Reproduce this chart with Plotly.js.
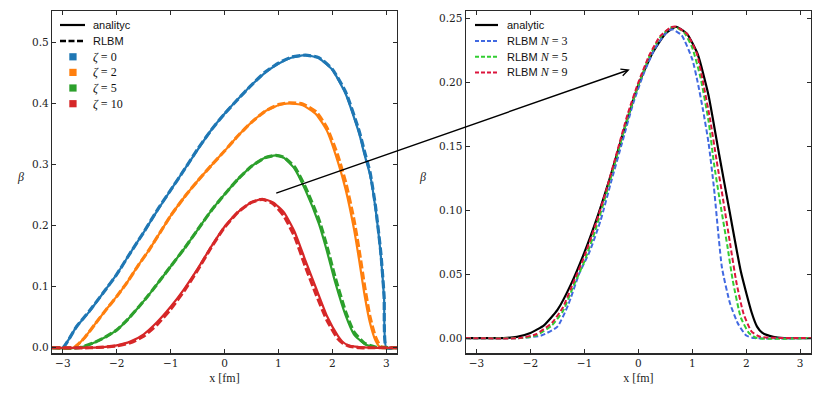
<!DOCTYPE html>
<html>
<head>
<meta charset="utf-8">
<script src="https://cdn.plot.ly/plotly-3.0.1.min.js"></script>
<style>
  body { margin: 0; background: #fff; }
  #chart { width: 822px; height: 398px; }
</style>
</head>
<body>
<div id="chart"></div>
<script>
// left panel: beta(x) for several zeta, analytic vs RLBM
const zetaColors = ["#1f77b4", "#ff7f0e", "#2ca02c", "#d62728"];
const zetaLabels = ["0", "2", "5", "10"];

const xZeta0 = [-3.2, -3.0, -2.75, -2.5, -2.25, -2.0, -1.75, -1.5, -1.25, -1.0, -0.75, -0.5, -0.25, 0.0, 0.25, 0.5, 0.75, 1.0, 1.25, 1.5, 1.75, 2.0, 2.25, 2.5, 2.6, 2.7, 2.8, 2.9, 2.96, 3.0, 3.2];
const yZeta0Analytic = [0, 0, 0.034, 0.06, 0.09, 0.12, 0.155, 0.189, 0.224, 0.258, 0.291, 0.324, 0.356, 0.383, 0.407, 0.43, 0.45, 0.465, 0.475, 0.479, 0.474, 0.455, 0.415, 0.35, 0.315, 0.283, 0.228, 0.15, 0.08, 0, 0];
const yZeta0Rlbm = [0, 0, 0.034, 0.061, 0.09, 0.12, 0.155, 0.189, 0.225, 0.258, 0.291, 0.325, 0.356, 0.383, 0.407, 0.43, 0.451, 0.466, 0.476, 0.479, 0.475, 0.456, 0.418, 0.354, 0.32, 0.287, 0.232, 0.155, 0.085, 0, 0];

const xZeta2 = [-3.2, -2.8, -2.6, -2.4, -2.2, -2.0, -1.8, -1.6, -1.4, -1.2, -1.0, -0.75, -0.5, -0.25, 0.0, 0.25, 0.5, 0.75, 1.0, 1.2, 1.45, 1.7, 1.9, 2.1, 2.25, 2.4, 2.5, 2.6, 2.7, 2.8, 2.9, 3.2];
const yZeta2Analytic = [0, 0, 0.016, 0.039, 0.062, 0.084, 0.108, 0.135, 0.16, 0.188, 0.216, 0.246, 0.273, 0.298, 0.322, 0.347, 0.369, 0.387, 0.397, 0.4, 0.397, 0.382, 0.355, 0.305, 0.258, 0.195, 0.142, 0.085, 0.04, 0.012, 0, 0];
const yZeta2Rlbm = [0, 0, 0.016, 0.039, 0.062, 0.084, 0.108, 0.135, 0.16, 0.188, 0.216, 0.246, 0.273, 0.298, 0.322, 0.347, 0.369, 0.387, 0.398, 0.401, 0.399, 0.386, 0.36, 0.315, 0.27, 0.21, 0.158, 0.1, 0.05, 0.018, 0.002, 0];

const xZeta5 = [-3.2, -2.7, -2.4, -2.2, -2.0, -1.8, -1.6, -1.4, -1.2, -1.0, -0.75, -0.5, -0.25, 0.0, 0.25, 0.5, 0.75, 0.95, 1.1, 1.3, 1.5, 1.75, 1.9, 2.05, 2.25, 2.4, 2.6, 2.8, 3.2];
const yZeta5Analytic = [0, 0, 0.009, 0.018, 0.029, 0.046, 0.066, 0.087, 0.11, 0.133, 0.162, 0.193, 0.224, 0.251, 0.276, 0.297, 0.311, 0.315, 0.311, 0.293, 0.258, 0.203, 0.158, 0.108, 0.052, 0.022, 0.006, 0, 0];
const yZeta5Rlbm = [0, 0, 0.009, 0.018, 0.029, 0.046, 0.066, 0.087, 0.11, 0.133, 0.162, 0.193, 0.224, 0.251, 0.276, 0.297, 0.311, 0.315, 0.312, 0.296, 0.263, 0.21, 0.166, 0.116, 0.058, 0.026, 0.007, 0.001, 0];

const xZeta10 = [-3.2, -2.5, -2.25, -2.0, -1.75, -1.5, -1.25, -1.0, -0.75, -0.5, -0.25, 0.0, 0.25, 0.5, 0.7, 0.9, 1.1, 1.3, 1.5, 1.7, 1.9, 2.1, 2.2, 2.3, 2.5, 2.7, 3.2];
const yZeta10Analytic = [0, 0, 0.001, 0.004, 0.01, 0.022, 0.042, 0.067, 0.096, 0.129, 0.165, 0.198, 0.222, 0.238, 0.2435, 0.238, 0.222, 0.19, 0.143, 0.097, 0.052, 0.02, 0.009, 0.004, 0.001, 0, 0];
const yZeta10Rlbm = [0, 0, 0.001, 0.003, 0.008, 0.019, 0.038, 0.063, 0.093, 0.127, 0.164, 0.197, 0.222, 0.238, 0.243, 0.236, 0.216, 0.182, 0.133, 0.087, 0.045, 0.015, 0.007, 0.003, 0, 0, 0];

// right panel: zeta = 10, RLBM with different N
const xN3 = [-3.2, -2.2, -1.8, -1.5, -1.3, -1.1, -0.9, -0.7, -0.5, -0.3, -0.1, 0.1, 0.3, 0.5, 0.62, 0.8, 1.0, 1.1, 1.2, 1.3, 1.4, 1.55, 1.7, 1.85, 2.0, 2.15, 3.2];
const yN3 = [0, 0, 0.002, 0.009, 0.026, 0.05, 0.068, 0.092, 0.123, 0.153, 0.183, 0.207, 0.226, 0.238, 0.2415, 0.237, 0.218, 0.2, 0.178, 0.153, 0.118, 0.055, 0.027, 0.011, 0.002, 0, 0];
const xN5 = [-3.2, -2.2, -1.9, -1.6, -1.4, -1.2, -1.0, -0.8, -0.6, -0.4, -0.2, 0.0, 0.2, 0.4, 0.6, 0.7, 0.85, 1.0, 1.15, 1.3, 1.4, 1.5, 1.65, 1.75, 1.9, 2.05, 2.2, 3.2];
const yN5 = [0, 0, 0.002, 0.01, 0.021, 0.041, 0.06, 0.084, 0.112, 0.142, 0.172, 0.198, 0.22, 0.235, 0.243, 0.243, 0.239, 0.227, 0.204, 0.17, 0.137, 0.11, 0.072, 0.045, 0.016, 0.004, 0, 0];
const xN9 = [-3.2, -2.2, -1.9, -1.6, -1.4, -1.2, -1.0, -0.8, -0.6, -0.4, -0.2, 0.0, 0.2, 0.4, 0.6, 0.7, 0.9, 1.08, 1.2, 1.33, 1.45, 1.58, 1.7, 1.82, 1.95, 2.1, 2.26, 3.2];
const yN9 = [0, 0, 0.003, 0.012, 0.024, 0.044, 0.064, 0.088, 0.115, 0.145, 0.175, 0.2, 0.221, 0.236, 0.243, 0.2435, 0.238, 0.223, 0.2, 0.171, 0.139, 0.106, 0.074, 0.043, 0.019, 0.005, 0.001, 0];

const nColors = ["#4169e1", "#32cd32", "#dc143c"];
const nLabels = ["3", "5", "9"];

const W = 822, H = 398;
const serif = "Liberation Serif";
const tickSerif = "DejaVu Serif";
const sans = "Liberation Sans";
const frame = "#2a2a2a";
const px = (v) => v / W;
const py = (v) => 1 - v / H;

const leftSets = [
  [xZeta0, yZeta0Analytic, yZeta0Rlbm],
  [xZeta2, yZeta2Analytic, yZeta2Rlbm],
  [xZeta5, yZeta5Analytic, yZeta5Rlbm],
  [xZeta10, yZeta10Analytic, yZeta10Rlbm],
];

const traces = [];
leftSets.forEach(([xs, ya, yr], i) => {
  traces.push({
    x: xs, y: ya, mode: "lines", xaxis: "x", yaxis: "y",
    line: { color: zetaColors[i], width: 2.2, shape: "spline", smoothing: 0.5 },
  });
  traces.push({
    x: xs, y: yr, mode: "lines", xaxis: "x", yaxis: "y",
    line: { color: zetaColors[i], width: 3.2, dash: "8px,3px", shape: "spline", smoothing: 0.5 },
  });
});

traces.push({
  x: xZeta10, y: yZeta10Analytic, mode: "lines", xaxis: "x2", yaxis: "y2",
  line: { color: "black", width: 2.2, shape: "spline", smoothing: 0.5 },
});
[[xN3, yN3], [xN5, yN5], [xN9, yN9]].forEach(([xs, ys], i) => {
  traces.push({
    x: xs, y: ys, mode: "lines", xaxis: "x2", yaxis: "y2",
    line: { color: nColors[i], width: 2, dash: "5px,2.5px", shape: "spline", smoothing: 0.5 },
  });
});

// legends are drawn by hand: plotly's minimum row height is taller than matplotlib's
const shapes = [];
const annotations = [];
function legendRow(y, textX, text, font) {
  annotations.push({
    xref: "paper", yref: "paper", x: px(textX), y: py(y), xanchor: "left", yanchor: "middle",
    text, showarrow: false, font,
  });
}
function legendLine(y, x0, x1, color, width, dash) {
  shapes.push({
    type: "line", xref: "paper", yref: "paper", x0: px(x0), x1: px(x1), y0: py(y), y1: py(y),
    line: { color, width, dash },
  });
}
const legendFont = { family: sans, size: 11, color: "#111" };
const mathFont = { family: serif, size: 12, color: "#111" };
const rowY = [25, 41, 56.8, 72.4, 88, 103.7];

legendLine(rowY[0], 60, 85, "black", 2.2, "solid");
legendRow(rowY[0], 91, "analityc", legendFont);
legendLine(rowY[1], 60, 85, "black", 2.4, "6px,2.5px");
legendRow(rowY[1], 91, "RLBM", legendFont);
zetaLabels.forEach((z, i) => {
  const y = rowY[i + 2];
  shapes.push({
    type: "rect", xref: "paper", yref: "paper", x0: px(69.3), x1: px(76.6), y0: py(y - 3.6), y1: py(y + 3.6),
    fillcolor: zetaColors[i], line: { width: 0 },
  });
  legendRow(y, 91, `<i>ζ</i> = ${z}`, mathFont);
});

legendLine(rowY[0], 475, 498, "black", 2.2, "solid");
legendRow(rowY[0], 505, "analytic", legendFont);
nLabels.forEach((n, i) => {
  const y = rowY[i + 1];
  legendLine(y, 475, 498, nColors[i], 2, "4px,2px");
  legendRow(y, 505, `RLBM <span style="font-family:Liberation Serif;font-size:12px"><i>N</i> = ${n}</span>`, legendFont);
});

// y labels (upright, as in the original)
[15, 422].forEach((x) => {
  annotations.push({
    xref: "paper", yref: "paper", x: px(x), y: py(177), text: "<i>β</i>", showarrow: false,
    font: { family: serif, size: 12, color: "#222" },
  });
});

// arrow from the zeta=10 peak on the left to the zoomed panel
annotations.push({
  xref: "x2", yref: "y2", x: -0.16, y: 0.21, axref: "pixel", ayref: "pixel", ax: -355, ay: 124,
  text: "", showarrow: true, arrowhead: 5, arrowsize: 1, arrowwidth: 1.4, arrowcolor: "black",
  standoff: 0, startstandoff: 0,
});

const axisCommon = {
  showgrid: false, zeroline: false, showline: true, mirror: "allticks",
  linecolor: frame, linewidth: 1.2, ticks: "inside", ticklen: 4, tickwidth: 1,
  tickcolor: frame, tickfont: { family: tickSerif, size: 10.5, color: "#222" },
};

const xAxisCommon = {
  ...axisCommon, range: [-3.2, 3.2], tickvals: [-3, -2, -1, 0, 1, 2, 3],
  title: { text: "x [fm]", font: { family: serif, size: 12, color: "#222" }, standoff: 5 },
};

const layout = {
  width: W, height: H,
  margin: { l: 0, r: 0, t: 0, b: 0 },
  paper_bgcolor: "white", plot_bgcolor: "white",
  showlegend: false,
  font: { family: sans, size: 10, color: "#111" },
  xaxis: { ...xAxisCommon, domain: [0.0633, 0.483], anchor: "y" },
  yaxis: { ...axisCommon, domain: [0.112, 0.972], anchor: "x", range: [-0.0093, 0.551], tick0: 0, dtick: 0.1, tickformat: ".1f" },
  xaxis2: { ...xAxisCommon, domain: [0.5666, 0.9866], anchor: "y2" },
  yaxis2: { ...axisCommon, domain: [0.112, 0.972], anchor: "x2", range: [-0.012, 0.2557], tick0: 0, dtick: 0.05, tickformat: ".2f" },
  shapes,
  annotations,
};

Plotly.newPlot("chart", traces, layout, { staticPlot: true, displayModeBar: false });
</script>
</body>
</html>
